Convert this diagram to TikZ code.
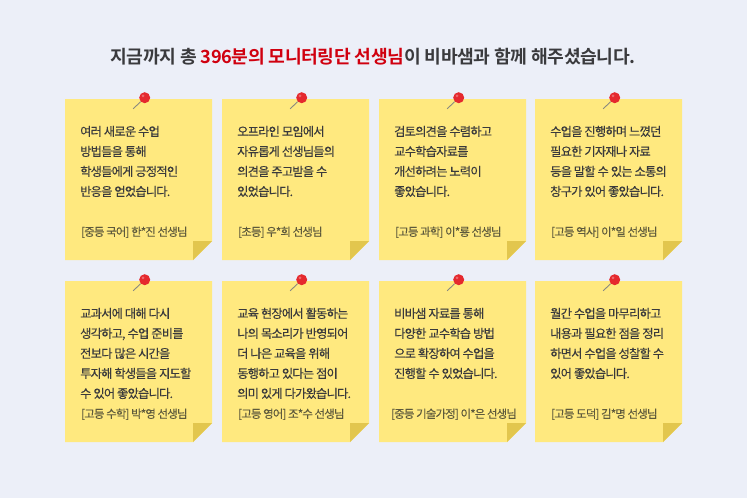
\documentclass[tikz,border=0pt]{standalone}
\usepackage{fontspec}
\setmainfont{Noto Sans CJK KR}[LetterSpace=-6,FakeBold=0.25]
\newfontfamily\namefont{Noto Sans CJK KR}[LetterSpace=-7,FakeBold=0.1]
\newfontfamily\boldfont{Noto Sans CJK KR Bold}[LetterSpace=-2]
\definecolor{bgc}{HTML}{ECEFF8}
\definecolor{notec}{HTML}{FFE97F}
\definecolor{foldc}{HTML}{E2C64E}
\definecolor{txtc}{HTML}{3A3A3C}
\definecolor{titlec}{HTML}{3A3A3D}
\definecolor{namec}{HTML}{5E5A3C}
\definecolor{redc}{HTML}{D0000F}
\definecolor{pinc}{HTML}{E5292E}
\definecolor{needc}{HTML}{8A8A80}
\tikzset{
  x=1pt,y=-1pt,
  notebox/.style={fill=notec,draw=none},
  foldtri/.style={fill=foldc,draw=none},
  bodytext/.style={anchor=base west,inner sep=0pt,text=txtc,font=\fontsize{12.2}{12.2}\selectfont},
  nametext/.style={anchor=base west,inner sep=0pt,text=namec,font=\fontsize{11.4}{11.4}\namefont},
  needle/.style={draw=needc,line width=0.9pt},
  pinhead/.style={fill=pinc,draw=none},
  titletext/.style={anchor=base,inner sep=0pt,text=titlec,font=\fontsize{18.2}{18.2}\boldfont},
}
\newcommand{\stickynote}[3]{%
  \begin{scope}[shift={(#1,#2)}]
    \path[notebox] (0,0) -- (147,0) -- (147,142) -- (128,161) -- (0,161) -- cycle;
    \path[foldtri] (128,142) -- (147,142) -- (128,161) -- cycle;
    \node[inner sep=0pt,minimum size=0pt] (#3a) at (68,10) {};
    \node[circle,pinhead,inner sep=0pt,minimum size=11pt] (#3b) at (79.7,-1.3) {};
    \draw[needle] (#3a) -- (#3b);
    \fill[white,opacity=.3] (78,-3.2) circle (1.5);
  \end{scope}
}
\begin{document}
\begin{tikzpicture}
\useasboundingbox (0,0) rectangle (747,498);
\fill[bgc] (0,0) rectangle (747,498);
\node[titletext] (title) at (373,63) {지금까지 총 {\color{redc}396분의 모니터링단 선생님}이 비바샘과 함께 해주셨습니다.};

\stickynote{65}{99}{na}
\stickynote{222}{99}{nb}
\stickynote{379}{99}{nc}
\stickynote{535}{99}{nd}
\stickynote{65}{281}{ne}
\stickynote{222}{281}{nf}
\stickynote{379}{281}{ng}
\stickynote{535}{281}{nh}

% row 1
\node[bodytext] (a1) at (80,136) {여러 새로운 수업};
\node[bodytext] (a2) at (80,156) {방법들을 통해};
\node[bodytext] (a3) at (80,176) {학생들에게 긍정적인};
\node[bodytext] (a4) at (80,196) {반응을 얻었습니다.};
\node[nametext] (a5) at (81,236) {[중등 국어] 한*진 선생님};

\node[bodytext] (b1) at (237,136) {오프라인 모임에서};
\node[bodytext] (b2) at (237,156) {자유롭게 선생님들의};
\node[bodytext] (b3) at (237,176) {의견을 주고받을 수};
\node[bodytext] (b4) at (237,196) {있었습니다.};
\node[nametext] (b5) at (238,236) {[초등] 우*희 선생님};

\node[bodytext] (c1) at (394,136) {검토의견을 수렴하고};
\node[bodytext] (c2) at (394,156) {교수학습자료를};
\node[bodytext] (c3) at (394,176) {개선하려는 노력이};
\node[bodytext] (c4) at (394,196) {좋았습니다.};
\node[nametext] (c5) at (395,236) {[고등 과학] 이*룡 선생님};

\node[bodytext] (d1) at (550,136) {수업을 진행하며 느꼈던};
\node[bodytext] (d2) at (550,156) {필요한 기자재나 자료};
\node[bodytext] (d3) at (550,176) {등을 말할 수 있는 소통의};
\node[bodytext] (d4) at (550,196) {창구가 있어 좋았습니다.};
\node[nametext] (d5) at (551,236) {[고등 역사] 이*일 선생님};

% row 2
\node[bodytext] (e1) at (80,318) {교과서에 대해 다시};
\node[bodytext] (e2) at (80,338) {생각하고, 수업 준비를};
\node[bodytext] (e3) at (80,358) {전보다 많은 시간을};
\node[bodytext] (e4) at (80,378) {투자해 학생들을 지도할};
\node[bodytext] (e5) at (80,398) {수 있어 좋았습니다.};
\node[nametext] (e6) at (81,418) {[고등 수학] 박*영 선생님};

\node[bodytext] (f1) at (237,318) {교육 현장에서 활동하는};
\node[bodytext] (f2) at (237,338) {나의 목소리가 반영되어};
\node[bodytext] (f3) at (237,358) {더 나은 교육을 위해};
\node[bodytext] (f4) at (237,378) {동행하고 있다는 점이};
\node[bodytext] (f5) at (237,398) {의미 있게 다가왔습니다.};
\node[nametext] (f6) at (238,418) {[고등 영어] 조*수 선생님};

\node[bodytext] (g1) at (394,318) {비바샘 자료를 통해};
\node[bodytext] (g2) at (394,338) {다양한 교수학습 방법};
\node[bodytext] (g3) at (394,358) {으로 확장하여 수업을};
\node[bodytext] (g4) at (394,378) {진행할 수 있었습니다.};
\node[nametext] (g5) at (391,418) {[중등 기술가정] 이*은 선생님};

\node[bodytext] (h1) at (550,318) {월간 수업을 마무리하고};
\node[bodytext] (h2) at (550,338) {내용과 필요한 점을 정리};
\node[bodytext] (h3) at (550,358) {하면서 수업을 성찰할 수};
\node[bodytext] (h4) at (550,378) {있어 좋았습니다.};
\node[nametext] (h5) at (551,418) {[고등 도덕] 김*명 선생님};
\end{tikzpicture}
\end{document}
